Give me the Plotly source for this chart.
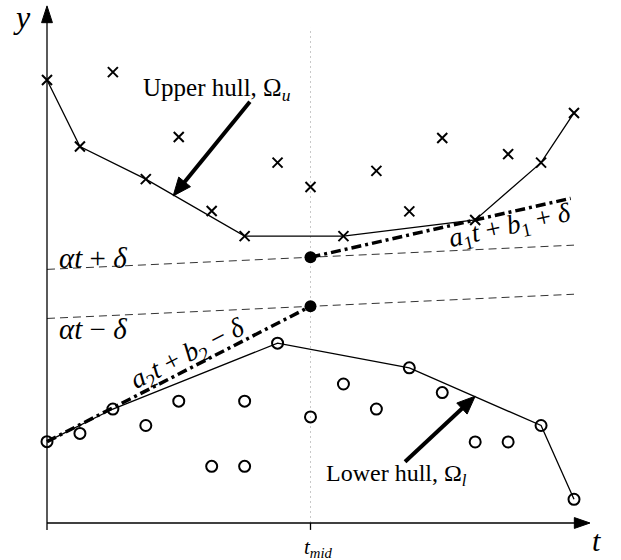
import math
import plotly.graph_objects as go

# ---------------- data ----------------
t_upper = list(range(17))
y_upper = [13.45, 11.43, 13.69, 10.44, 11.72, 9.47, 8.71, 10.94, 10.20,
           8.71, 10.69, 9.46, 11.69, 9.20, 11.20, 10.94, 12.45]
upper_hull_t = [0, 1, 3, 6, 9, 13, 15, 16]

t_lower = [0, 1, 2, 3, 4, 5, 6, 6, 7, 8, 9, 10, 11, 12, 13, 14, 15, 16]
y_lower = [2.47, 2.72, 3.46, 2.96, 3.70, 1.72, 3.70, 1.72, 5.46, 3.22,
           4.22, 3.46, 4.71, 3.96, 2.46, 2.46, 2.96, 0.72]
lower_hull_t = [0, 2, 7, 11, 15, 16]
lower_hull_y = [2.47, 3.46, 5.46, 4.71, 2.96, 0.72]

t_mid = 8
alpha, c0, delta = 0.046, 6.955, 0.745
band_t = [0, 16]
a1, b1 = 0.2264, 5.512
a1_t = [8, 15.9]
a2, b2 = 0.5135, 3.215
a2_t = [0, 8]

# pointer arrows (tip, tail) in data units
pointers = [((3.83, 9.93), (6.16, 12.79)), ((13.0, 3.85), (10.87, 1.86))]

# axis decoration extents (data units)
x_axis_end, y_axis_end = 16.03, 15.21
x_tip, y_tip = 16.486, 15.70
head_half = 0.165
tick_len = 0.21
vline_top = 15.03

upper_hull_y = [y_upper[t_upper.index(t)] for t in upper_hull_t]

FONT = "Liberation Serif"
fig = go.Figure()

def line(x, y, **kw):
    fig.add_trace(go.Scatter(x=x, y=y, mode="lines", hoverinfo="skip", line=kw))

def filled(x, y):
    fig.add_trace(go.Scatter(x=x, y=y, mode="lines", fill="toself", fillcolor="black",
                             line=dict(color="black", width=1), hoverinfo="skip"))

# vertical dotted t_mid guide
line([t_mid, t_mid], [0, vline_top], color="#c8c8c8", width=1, dash="2px,3px")

# band lines
plus_y = [c0 + alpha * t + delta for t in band_t]
minus_y = [c0 + alpha * t - delta for t in band_t]
line(band_t, plus_y, color="#333", width=1, dash="8px,5px")
line(band_t, minus_y, color="#333", width=1, dash="8px,5px")

# hulls
line(upper_hull_t, upper_hull_y, color="black", width=1.3)
line(lower_hull_t, lower_hull_y, color="black", width=1.3)

# dash-dot fitted lines
line(a1_t, [a1 * t + b1 + delta for t in a1_t], color="black", width=3.5, dash="10px,4px,3px,4px")
line(a2_t, [a2 * t + b2 - delta for t in a2_t], color="black", width=3.5, dash="10px,4px,3px,4px")

# markers
fig.add_trace(go.Scatter(x=t_upper, y=y_upper, mode="markers", hoverinfo="skip",
                         marker=dict(symbol="x-thin", size=10, line=dict(color="black", width=2))))
fig.add_trace(go.Scatter(x=t_lower, y=y_lower, mode="markers", hoverinfo="skip",
                         marker=dict(symbol="circle-open", size=11, color="black", line=dict(color="black", width=2))))
dots_y = [c0 + alpha * t_mid + delta, c0 + alpha * t_mid - delta]
fig.add_trace(go.Scatter(x=[t_mid, t_mid], y=dots_y, mode="markers", hoverinfo="skip",
                         marker=dict(symbol="circle", size=12, color="black")))

# axes
line([0, x_axis_end], [0, 0], color="black", width=1.3)
line([0, 0], [-tick_len, y_axis_end], color="black", width=1.3)
line([t_mid, t_mid], [0, -tick_len], color="black", width=1.3)
filled([x_tip, x_axis_end - 0.02, x_axis_end - 0.02, x_tip], [0, head_half, -head_half, 0])
filled([0, head_half, -head_half, 0], [y_tip, y_axis_end - 0.02, y_axis_end - 0.02, y_tip])

# pointer arrows (shaft + filled head); axes share one scale so units are isotropic
HEAD_L, HEAD_W = 0.55, 0.23
for (tx, ty), (sx0, sy0) in pointers:
    dx, dy = tx - sx0, ty - sy0
    n = math.hypot(dx, dy)
    ux, uy = dx / n, dy / n
    bx, by = tx - ux * HEAD_L, ty - uy * HEAD_L
    line([sx0, bx + ux * 0.05], [sy0, by + uy * 0.05], color="black", width=4)
    filled([tx, bx - uy * HEAD_W, bx + uy * HEAD_W, tx],
           [ty, by + ux * HEAD_W, by - ux * HEAD_W, ty])

def text(x, y, s, size=24, angle=0, xshift=0, yanchor="middle"):
    fig.add_annotation(x=x, y=y, text=s, showarrow=False, textangle=angle, xshift=xshift,
                       font=dict(family=FONT, size=size, color="black"),
                       xanchor="center", yanchor=yanchor)

text(-0.76, 15.36, "<i>y</i>", size=32)
text(16.67, -1.10, "<i>t</i>", size=30, yanchor="bottom")
text(t_mid, -0.76, "<i>t</i><sub><i>mid</i></sub>", size=21, xshift=8)
text(5.16, 13.15, "Upper hull, Ω<sub><i>u</i></sub>", size=25)
text(10.6, 1.46, "Lower hull, Ω<sub><i>l</i></sub>", size=24)
text(1.40, 8.05, "<i>αt</i> + <i>δ</i>", size=29)
text(1.40, 5.90, "<i>αt</i> − <i>δ</i>", size=29)
text(14.05, 9.0, "<i>a</i><sub>1</sub><i>t</i> + <i>b</i><sub>1</sub> + <i>δ</i>", size=27, angle=-12.5)
text(4.28, 5.10, "<i>a</i><sub>2</sub><i>t</i> + <i>b</i><sub>2</sub> − <i>δ</i>", size=27, angle=-27)

W, H = 621, 560
sx = 527 / 16
fig.update_layout(
    width=W, height=H, margin=dict(l=0, r=0, t=0, b=0, pad=0),
    paper_bgcolor="white", plot_bgcolor="white", showlegend=False,
    xaxis=dict(visible=False, range=[-47 / sx, (W - 47) / sx], fixedrange=True),
    yaxis=dict(visible=False, range=[-(H - 523) / sx, 523 / sx], fixedrange=True),
)
fig.write_html("out.html")
